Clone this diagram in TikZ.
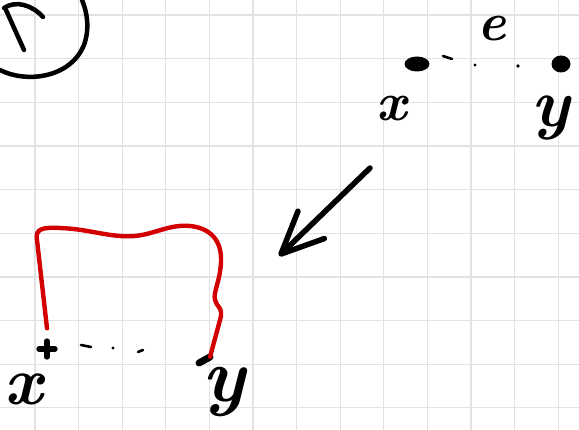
\documentclass[tikz,border=0pt]{standalone}
\usepackage{fontspec}
\usetikzlibrary{arrows.meta,positioning,shapes.geometric}

\definecolor{gridgray}{RGB}{226,226,226}
\definecolor{inkred}{RGB}{210,0,0}

\tikzset{
  gridline/.style={draw=gridgray,line width=1.3pt},
  ink/.style={line width=4.5pt,line cap=round,line join=round},
  redline/.style={draw=inkred,line width=4.4pt,line cap=round,line join=round},
  blob/.style={fill=black,ellipse,inner sep=0pt},
  speck/.style={line width=2.6pt,line cap=round},
  hand/.style={font=\fontsize{54}{54}\selectfont\bfseries\itshape,inner sep=0pt},
  bighand/.style={font=\fontsize{68}{68}\selectfont\bfseries\itshape,inner sep=0pt}
}

\begin{document}
\begin{tikzpicture}[x=1pt,y=-1pt]
    % paper
\fill[white] (0,0) rectangle (579,430);
\useasboundingbox (0,0) rectangle (579,430);
\foreach \i in {0,...,12}
  \draw[gridline] ({35+43.6*\i},0) -- ({35+43.6*\i},430);
\foreach \j in {0,...,9}
  \draw[gridline] (0,{15+43.65*\j}) -- (579,{15+43.65*\j});

    % circled mark, top left
\draw[ink] (0,70) .. controls (25,83) and (70,79) .. (84,45) .. controls (90,28) and (87,12) .. (82,0);
\draw[ink] (24,50) -- (6,10);
\draw[ink] (4,8) .. controls (16,0) and (32,5) .. (43,17);

    % upper graph
\node[blob,minimum width=25pt,minimum height=15pt] (xa) at (417,64) {};
\node[blob,minimum width=19pt,minimum height=17pt] (ya) at (561,64) {};
\draw[speck] (443,56) -- (452,59);
\fill (475,65) circle (1.6pt);
\fill (518,66) circle (1.8pt);
\node[hand] (ea) at (492,29) {e};
\node[hand] (xlab) at (392,109) {x};
\node[bighand] (ylab) at (551,118) {y};

    % arrow between the two
\coordinate (from) at (370,168);
\coordinate (to) at (279,256);
\draw[ink,line width=5.5pt,-{Straight Barb[round,length=42pt,width=38pt]}] (from) -- (to);

    % lower graph
\node[inner sep=0pt,minimum size=15pt] (xb) at (47,349) {};
\draw[ink,line width=6pt] (xb.west) -- (xb.east) (xb.north) -- (xb.south);
\node[coordinate] (yb) at (210,357) {};
\draw[ink,line width=7pt] (yb) -- ++(-11,6);
\draw[speck] (81,345) -- (91,347);
\fill (113,348) circle (1.7pt);
\draw[speck] (138,352) -- (143,350);
\node[bighand] (xblab) at (24,389) {x};
\node[bighand,font=\fontsize{76}{76}\selectfont\bfseries\itshape] (yblab) at (224,392) {y};

    % red path round the top
\draw[redline] ([yshift=13pt]xb.north) -- (37,240) .. controls (35,229) and (42,227) .. (60,228)
  .. controls (90,229) and (110,238) .. (135,236) .. controls (155,234) and (170,224) .. (190,226)
  .. controls (210,228) and (222,240) .. (221,262) .. controls (220,282) and (213,292) .. (215,300)
  .. controls (216,306) and (224,308) .. (220,320) -- (yb);
\end{tikzpicture}
\end{document}
